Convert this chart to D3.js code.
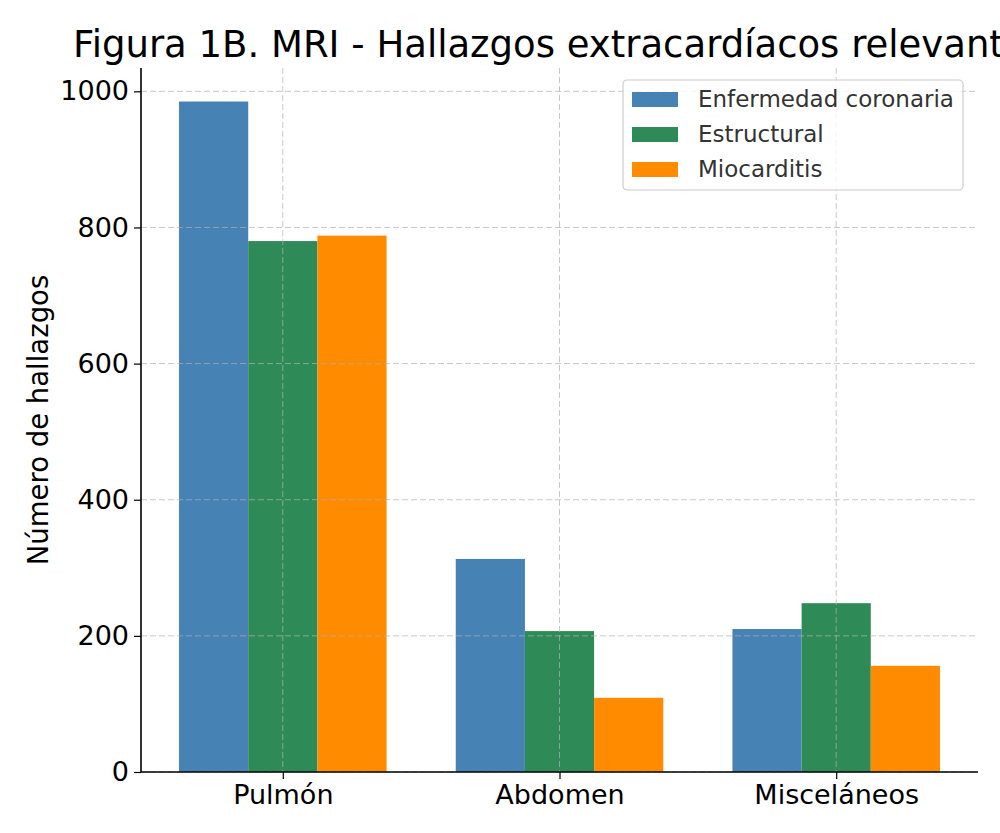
<!DOCTYPE html>
<html>
<head>
<meta charset="utf-8">
<script src="https://cdn.jsdelivr.net/npm/d3@7"></script>
<style>
  body { margin: 0; background: #fff; }
  svg text { font-family: "DejaVu Sans", sans-serif; fill: #000; }
</style>
</head>
<body>
<div id="chart"></div>
<script>
// datos
var categorias = ["Pulmón", "Abdomen", "Misceláneos"];
var series = ["Enfermedad coronaria", "Estructural", "Miocarditis"];
var coronaria = [985, 313, 210];
var estructural = [780, 207, 248];
var miocarditis = [788, 109, 156];
var yTicks = [0, 200, 400, 600, 800, 1000];
var colores = ["#4682b4", "#2e8b57", "#ff8c00"];

var valores = [coronaria, estructural, miocarditis];

var width = 1000, height = 833;
var mLeft = 141, mRight = 978, mTop = 68, mBottom = 772;

var svg = d3.select("#chart").append("svg")
    .attr("width", width)
    .attr("height", height);

var barW = 0.25;
var x = d3.scaleLinear()
    .domain([-0.5125, 2.5125])
    .range([mLeft, mRight]);

var ymax = d3.max(coronaria.concat(estructural, miocarditis)) * 1.05;
var y = d3.scaleLinear()
    .domain([0, ymax])
    .range([mBottom, mTop]);

// barras
for (var s = 0; s < series.length; s++) {
    svg.append("g").selectAll("rect")
        .data(valores[s])
        .enter().append("rect")
        .attr("x", function(d, i) { return x(i + (s - 1) * barW - barW / 2); })
        .attr("width", function(d, i) { return x(barW) - x(0); })
        .attr("y", function(d) { return y(d); })
        .attr("height", function(d) { return y(0) - y(d); })
        .style("fill", colores[s]);
}

// rejilla (encima de las barras, como en matplotlib)
var grid = svg.append("g");
yTicks.forEach(function(t) {
    grid.append("line")
        .attr("x1", mLeft).attr("x2", mRight)
        .attr("y1", y(t)).attr("y2", y(t));
});
categorias.forEach(function(c, i) {
    grid.append("line")
        .attr("x1", x(i)).attr("x2", x(i))
        .attr("y1", mTop).attr("y2", mBottom);
});
grid.selectAll("line")
    .style("stroke", "#b0b0b0")
    .style("stroke-opacity", 0.7)
    .style("stroke-width", 1)
    .style("stroke-dasharray", "6,3");

// ejes
var yAxis = svg.append("g")
    .attr("transform", "translate(" + mLeft + ",0)")
    .call(d3.axisLeft(y).tickValues(yTicks).tickSize(7).tickPadding(5)
        .tickFormat(d3.format("d")));
var xAxis = svg.append("g")
    .attr("transform", "translate(0," + mBottom + ")")
    .call(d3.axisBottom(x).tickValues([0, 1, 2]).tickSize(7).tickPadding(6)
        .tickFormat(function(d) { return categorias[d]; }));

[yAxis, xAxis].forEach(function(a) {
    a.select(".domain").style("stroke", "#000").style("stroke-width", 1.6);
    a.selectAll(".tick line").style("stroke", "#000").style("stroke-width", 1.2);
    a.selectAll("text")
        .style("font-family", "DejaVu Sans, sans-serif")
        .style("font-size", "27px")
        .style("fill", "#000");
});
yAxis.select(".domain").attr("d", "M0," + mTop + "V" + mBottom);
xAxis.select(".domain").attr("d", "M" + mLeft + ",0H" + mRight);

// titulo y etiqueta
svg.append("text")
    .attr("x", (mLeft + mRight) / 2)
    .attr("y", 57)
    .attr("text-anchor", "middle")
    .style("font-size", "37px")
    .text("Figura 1B. MRI - Hallazgos extracardíacos relevantes");

svg.append("text")
    .attr("transform", "translate(48," + (mTop + mBottom) / 2 + ") rotate(-90)")
    .attr("text-anchor", "middle")
    .style("font-size", "27.5px")
    .text("Número de hallazgos");

// leyenda
var leg = svg.append("g").attr("transform", "translate(623,80)");
leg.append("rect")
    .attr("width", 340).attr("height", 110)
    .attr("rx", 4)
    .style("fill", "#fff").style("fill-opacity", 0.8)
    .style("stroke", "#cccccc").style("stroke-width", 1.2);
series.forEach(function(n, i) {
    leg.append("rect")
        .attr("x", 9).attr("y", 12 + i * 35)
        .attr("width", 46).attr("height", 15)
        .style("fill", colores[i]);
    leg.append("text")
        .attr("x", 75).attr("y", 19 + i * 35)
        .attr("dy", "0.35em")
        .style("font-size", "23px")
        .style("fill", "#333")
        .text(n);
});
</script>
</body>
</html>
